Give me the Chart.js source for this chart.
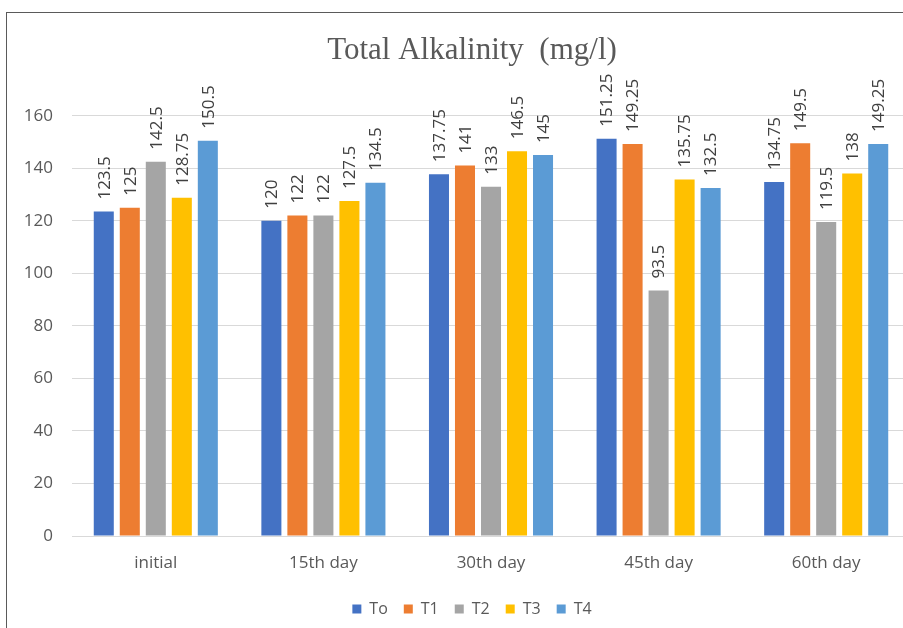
<!DOCTYPE html>
<html>
<head>
<meta charset="utf-8">
<script src="https://cdn.jsdelivr.net/npm/chart.js@4/dist/chart.umd.min.js"></script>
<style>
  html, body { margin: 0; padding: 0; background: #ffffff; overflow: hidden; }
  #frame {
    position: absolute; left: 6px; top: 12px;
    width: 930px; height: 620px;
    border-left: 1px solid #5a5a5a; border-top: 1px solid #5a5a5a;
    background: #ffffff;
  }
  canvas { display: block; }
</style>
</head>
<body>
<div id="frame"><canvas id="chart" width="930" height="616"></canvas></div>
<script>
// Sampling days
const categories = ['initial', '15th day', '30th day', '45th day', '60th day'];

// Treatment series (mg/l)
const seriesNames = ['To', 'T1', 'T2', 'T3', 'T4'];
const valuesTo = [123.5, 120, 137.75, 151.25, 134.75];
const valuesT1 = [125, 122, 141, 149.25, 149.5];
const valuesT2 = [142.5, 122, 133, 93.5, 119.5];
const valuesT3 = [128.75, 127.5, 146.5, 135.75, 138];
const valuesT4 = [150.5, 134.5, 145, 132.5, 149.25];

// Value axis ticks
const yTicks = [0, 20, 40, 60, 80, 100, 120, 140, 160];

const seriesColors = ['#4472C4', '#ED7D31', '#A5A5A5', '#FFC000', '#5B9BD5'];
const seriesValues = [valuesTo, valuesT1, valuesT2, valuesT3, valuesT4];

const baseFont = '"Open Sans", Lato, sans-serif';

// Vertical value labels written above each bar
const barValueLabels = {
  id: 'barValueLabels',
  afterDatasetsDraw(chart) {
    const ctx = chart.ctx;
    ctx.save();
    ctx.font = '17px ' + baseFont;
    ctx.fillStyle = '#404040';
    ctx.textAlign = 'left';
    ctx.textBaseline = 'middle';
    chart.data.datasets.forEach((ds, di) => {
      const meta = chart.getDatasetMeta(di);
      meta.data.forEach((bar, i) => {
        ctx.save();
        ctx.translate(bar.x + 1, bar.y - 12);
        ctx.rotate(-Math.PI / 2);
        ctx.fillText(String(ds.data[i]), 0, 0);
        ctx.restore();
      });
    });
    ctx.restore();
  }
};

new Chart(document.getElementById('chart'), {
  type: 'bar',
  data: {
    labels: categories,
    datasets: seriesNames.map((name, k) => ({
      label: name,
      data: seriesValues[k],
      backgroundColor: seriesColors[k],
      borderWidth: 0,
      categoryPercentage: 0.776,
      barPercentage: 0.77
    }))
  },
  options: {
    responsive: false,
    animation: false,
    layout: { padding: { left: 0, right: 0, top: 0, bottom: 2 } },
    plugins: {
      title: {
        display: true,
        text: 'Total Alkalinity  (mg/l)',
        color: '#595959',
        font: { family: '"Liberation Serif", "Times New Roman", serif', size: 31, weight: 'normal' },
        padding: { top: 19, bottom: 46.5 }
      },
      legend: {
        position: 'bottom',
        labels: {
          color: '#595959',
          font: { family: baseFont, size: 16 },
          boxWidth: 9,
          boxHeight: 9,
          padding: 16
        }
      },
      tooltip: { enabled: false }
    },
    scales: {
      x: {
        grid: { display: false, drawTicks: false },
        border: { display: true, color: '#d9d9d9', width: 1 },
        ticks: { color: '#595959', font: { family: baseFont, size: 17 }, padding: 17 },
        afterFit(scale) { scale.height = 49; }
      },
      y: {
        min: 0,
        max: 160,
        afterBuildTicks(scale) { scale.ticks = yTicks.map(v => ({ value: v })); },
        grid: { color: '#d9d9d9', drawTicks: false },
        border: { display: false },
        ticks: { color: '#595959', font: { family: baseFont, size: 17 }, padding: 19 },
        afterFit(scale) { scale.width = 65; }
      },
      // empty right-hand margin strip, keeps the plot clear of the frame edge
      margin: {
        type: 'linear',
        position: 'right',
        display: true,
        grid: { display: false, drawTicks: false },
        border: { display: false },
        ticks: { display: false },
        afterFit(scale) { scale.width = 27; }
      }
    }
  },
  plugins: [barValueLabels]
});
</script>
</body>
</html>
